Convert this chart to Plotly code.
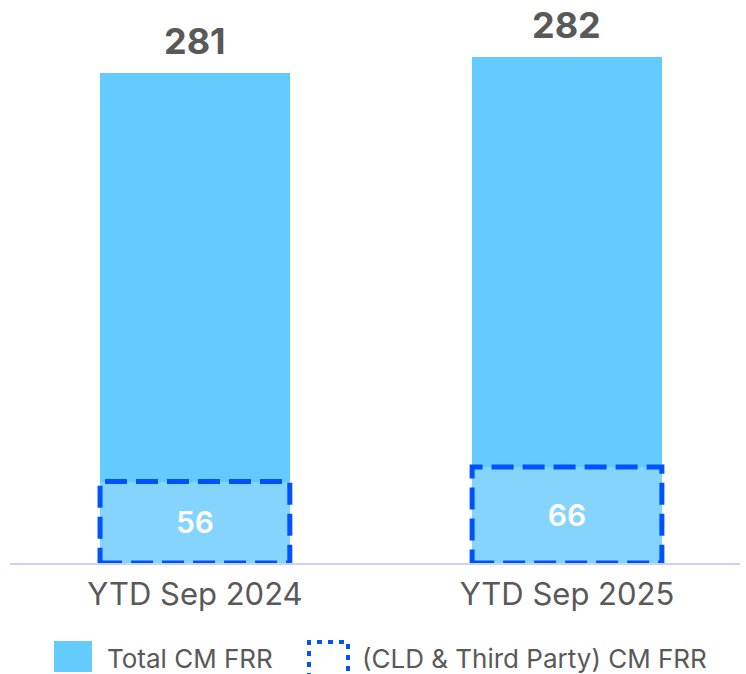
import plotly.graph_objects as go

categories = ["YTD Sep 2024", "YTD Sep 2025"]
cld_values = [56, 66]
total_values = [281, 282]

bar_width = 0.51
W, H = 746, 674
ml, mr, mt, mb = 10, 6, 10, 111
pw, ph = W - ml - mr, H - mt - mb

def px_x(p):
    return (p - ml) / pw

def px_y(p):
    return (H - mb - p) / ph

fig = go.Figure()
fig.add_trace(go.Bar(
    x=list(range(len(categories))), y=cld_values, width=bar_width,
    marker=dict(color="#84D4FE", line=dict(width=0)),
    text=[str(v) for v in cld_values], textposition="inside",
    insidetextanchor="middle",
    textfont=dict(family="Inter", size=30, color="white", weight=600),
    showlegend=False, hoverinfo="skip",
))
fig.add_trace(go.Bar(
    x=list(range(len(categories))), y=total_values, width=bar_width,
    marker=dict(color="#63CBFE", line=dict(width=0)),
    showlegend=False, hoverinfo="skip",
))

shapes = []
annotations = []
for i, (c, t) in enumerate(zip(cld_values, total_values)):
    shapes.append(dict(
        type="rect", xref="x", yref="y",
        x0=i - bar_width / 2, x1=i + bar_width / 2, y0=0, y1=c,
        line=dict(color="#0052FF", width=5, dash="22px,9px"),
        fillcolor="rgba(0,0,0,0)", layer="above",
    ))
    annotations.append(dict(
        x=i, y=c + t, xref="x", yref="y", text=str(t), showarrow=False,
        yanchor="bottom", yshift=8,
        font=dict(family="Inter", size=36, color="#595959", weight=700),
    ))

# legend
shapes.append(dict(type="rect", xref="paper", yref="paper",
                   x0=px_x(54), x1=px_x(92), y0=px_y(672), y1=px_y(641),
                   fillcolor="#63CBFE", line=dict(width=0)))
shapes.append(dict(type="rect", xref="paper", yref="paper",
                   x0=px_x(309), x1=px_x(348), y0=px_y(676), y1=px_y(642),
                   fillcolor="rgba(0,0,0,0)",
                   line=dict(color="#0052FF", width=4, dash="5px,6px")))
annotations.append(dict(x=px_x(105), y=px_y(658), xref="paper", yref="paper",
                        text="Total CM FRR", showarrow=False, xanchor="left",
                        yanchor="middle",
                        font=dict(family="Inter", size=26, color="#595959")))
annotations.append(dict(x=px_x(360), y=px_y(658), xref="paper", yref="paper",
                        text="(CLD & Third Party) CM FRR", showarrow=False,
                        xanchor="left", yanchor="middle",
                        font=dict(family="Inter", size=26, color="#595959")))

fig.update_layout(
    width=W, height=H, barmode="stack",
    margin=dict(l=ml, r=mr, t=mt, b=mb),
    paper_bgcolor="white", plot_bgcolor="white",
    shapes=shapes, annotations=annotations,
    xaxis=dict(
        tickmode="array", tickvals=list(range(len(categories))),
        ticktext=categories, range=[-0.497, 1.465],
        showgrid=False, zeroline=False, showline=True,
        linecolor="#C9D1F7", linewidth=1.5, ticks="",
        ticklabelstandoff=3,
        tickfont=dict(family="Inter", size=31, color="#595959"),
    ),
    yaxis=dict(range=[0, ph / 1.454], visible=False, showgrid=False,
               zeroline=False),
)

fig.write_html("out.html", config={"displayModeBar": False},
               post_script="document.body.style.margin='0px';document.body.style.overflow='hidden';")
